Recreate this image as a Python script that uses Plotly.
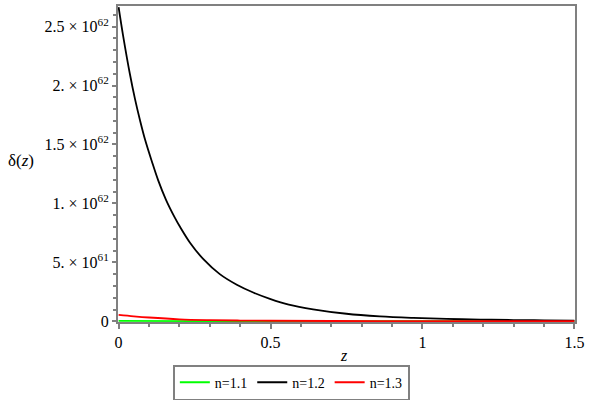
import numpy as np
import plotly.graph_objects as go

# ---- data (delta in units of 1e61) ----
SCALE = 1e61
z_black = [0, 0.015, 0.037, 0.054, 0.070, 0.087, 0.109, 0.130, 0.156, 0.185, 0.202,
           0.235, 0.279, 0.333, 0.389, 0.443, 0.498, 0.56, 0.64, 0.75, 0.86, 0.97,
           1.08, 1.19, 1.30, 1.40, 1.5]
delta_black = [26.65, 24.2, 21.0, 18.85, 17.1, 15.42, 13.6, 11.98, 10.31, 8.8, 8.02,
               6.67, 5.27, 4.0, 3.1, 2.44, 1.91, 1.42, 1.02, 0.64, 0.42, 0.29,
               0.20, 0.145, 0.105, 0.08, 0.062]

z_red = [0, 0.05, 0.1, 0.2, 0.3, 0.4, 0.5, 0.7, 1.0, 1.25, 1.5]
delta_red = [0.54, 0.42, 0.32, 0.17, 0.10, 0.065, 0.045, 0.025, 0.012, 0.008, 0.005]

z_green = [0, 0.25, 0.5, 0.75, 1.0, 1.25, 1.5]
delta_green = [0.035, 0.02, 0.012, 0.008, 0.005, 0.004, 0.003]

series_names = ["n=1.1", "n=1.2", "n=1.3"]

x_tickvals = [0, 0.5, 1, 1.5]
x_ticktext = ["0", "0.5", "1", "1.5"]
y_tickvals = [0, 5, 10, 15, 20, 25]
y_ticktext = ["0", "5. × 10<sup>61</sup>", "1. × 10<sup>62</sup>",
              "1.5 × 10<sup>62</sup>", "2. × 10<sup>62</sup>", "2.5 × 10<sup>62</sup>"]

FONT = "Liberation Serif"
AXIS_GRAY = "#808080"

fig = go.Figure()
fig.add_trace(go.Scatter(x=z_green, y=np.array(delta_green) * SCALE, mode="lines",
                         name=series_names[0], line=dict(color="#00ff00", width=1.8, shape="spline")))
fig.add_trace(go.Scatter(x=z_black, y=np.array(delta_black) * SCALE, mode="lines",
                         name=series_names[1], line=dict(color="#000000", width=1.8, shape="spline")))
fig.add_trace(go.Scatter(x=z_red, y=np.array(delta_red) * SCALE, mode="lines",
                         name=series_names[2], line=dict(color="#ff0000", width=1.8, shape="spline")))

fig.update_layout(
    template="none",
    width=590, height=400,
    margin=dict(l=118, r=15, t=6, b=78, autoexpand=False),
    paper_bgcolor="white", plot_bgcolor="white",
    font=dict(family=FONT, size=15, color="black"),
    showlegend=True,
    legend=dict(orientation="h", x=0.12, xanchor="left", y=-0.135, yanchor="top",
                bordercolor=AXIS_GRAY, borderwidth=2, bgcolor="white",
                font=dict(family=FONT, size=14, color="black"), itemwidth=30,
                tracegroupgap=0),
)

fig.update_xaxes(
    range=[-0.002, 1.502], showgrid=False, zeroline=False, automargin=False,
    showline=True, linecolor=AXIS_GRAY, linewidth=2, mirror=True, layer="below traces",
    tickmode="array", tickvals=x_tickvals, ticktext=x_ticktext,
    ticks="outside", ticklen=5, tickwidth=1.5, tickcolor=AXIS_GRAY,
    minor=dict(tickmode="linear", tick0=0, dtick=0.1, ticks="outside",
               ticklen=3, tickwidth=1.5, tickcolor=AXIS_GRAY, showgrid=False),
    tickfont=dict(family=FONT, size=16, color="black"),
)
fig.update_yaxes(
    range=[-0.06 * SCALE, 26.75 * SCALE], showgrid=False, zeroline=False, automargin=False,
    showline=True, linecolor=AXIS_GRAY, linewidth=2, mirror=True, layer="below traces",
    tickmode="array", tickvals=[v * SCALE for v in y_tickvals], ticktext=y_ticktext,
    ticks="outside", ticklen=4, tickwidth=1.5, tickcolor=AXIS_GRAY,
    minor=dict(tickmode="linear", tick0=0, dtick=SCALE, ticks="outside",
               ticklen=3, tickwidth=1.5, tickcolor=AXIS_GRAY, showgrid=False),
    tickfont=dict(family=FONT, size=16, color="black"),
)

fig.add_annotation(text="δ(<i>z</i>)", xref="paper", yref="paper",
                   x=-0.212, y=0.51, xanchor="center", yanchor="middle",
                   showarrow=False, font=dict(family=FONT, size=17, color="black"))
fig.add_annotation(text="<i>z</i>", xref="paper", yref="paper",
                   x=0.495, y=-0.105, xanchor="center", yanchor="middle",
                   showarrow=False, font=dict(family=FONT, size=16, color="black"))

fig.write_html("out.html", config={"displayModeBar": False},
               post_script="document.body.style.margin='0px';")
